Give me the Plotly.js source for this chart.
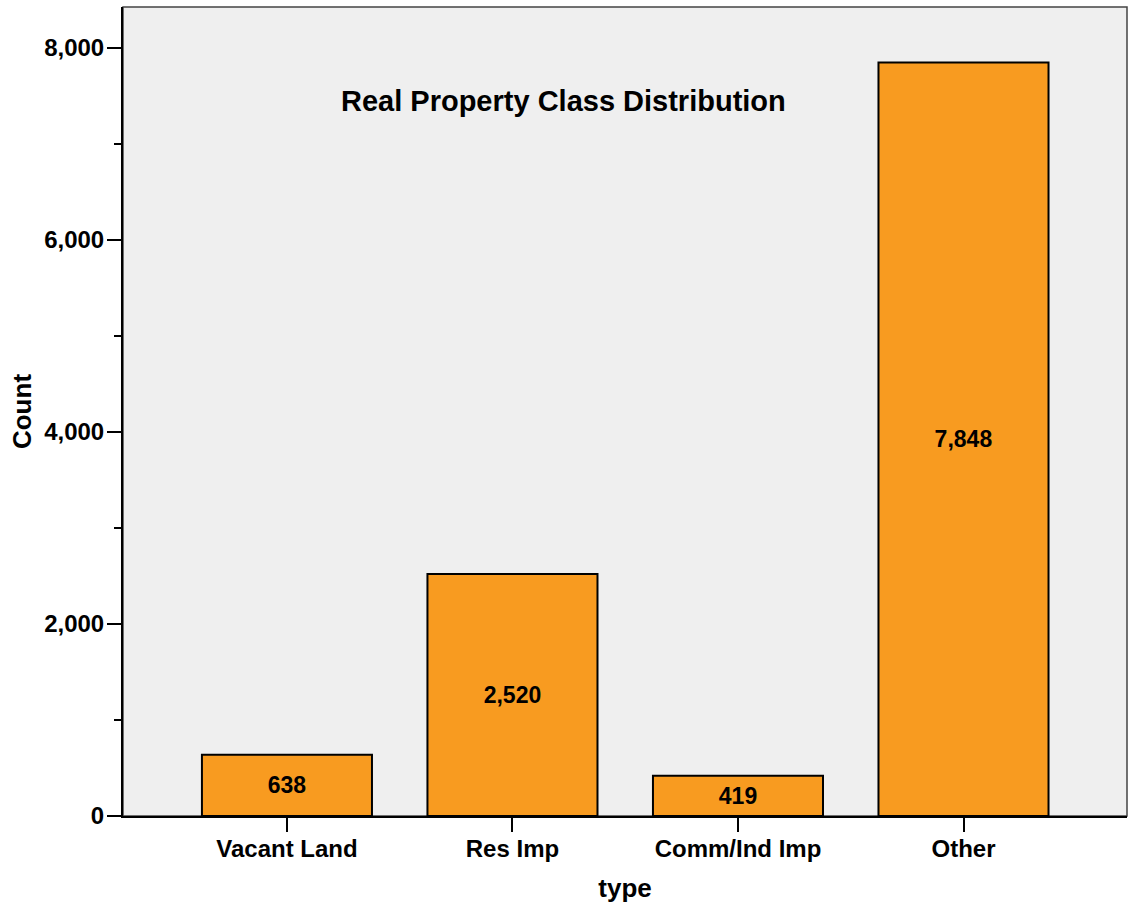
<!DOCTYPE html>
<html>
<head>
<meta charset="utf-8">
<script src="https://cdn.plot.ly/plotly-3.0.1.min.js"></script>
<style>
  html, body { margin: 0; padding: 0; background: #ffffff; }
  #chart { width: 1130px; height: 904px; }
</style>
</head>
<body>
<div id="chart"></div>
<script>
// Real property class counts
const categories = ["Vacant Land", "Res Imp", "Comm/Ind Imp", "Other"];
const counts = [638, 2520, 419, 7848];
const yTickValues = [0, 2000, 4000, 6000, 8000];
const yTickLabels = ["0", "2,000", "4,000", "6,000", "8,000"];

const FONT = "Liberation Sans, Arial, Helvetica, sans-serif";

const trace = {
  type: "bar",
  x: categories,
  y: counts,
  width: 0.754,
  marker: { color: "#F89B20", line: { color: "#000000", width: 2 } },
  text: counts.map(v => v.toLocaleString("en-US")),
  textposition: "inside",
  insidetextanchor: "middle",
  textangle: 0,
  textfont: { family: FONT, size: 23, color: "#000000", weight: 700 },
  hoverinfo: "x+y"
};

const layout = {
  width: 1130,
  height: 904,
  margin: { l: 123, r: 3, t: 7, b: 88 },
  paper_bgcolor: "#ffffff",
  plot_bgcolor: "#EFEFEF",
  showlegend: false,
  font: { family: FONT, color: "#000000" },
  xaxis: {
    type: "category",
    range: [-0.727, 3.725],
    showline: true,
    linecolor: "#000000",
    linewidth: 2,
    ticks: "outside",
    ticklen: 14,
    tickwidth: 2,
    tickcolor: "#000000",
    ticklabelstandoff: -4,
    showgrid: false,
    zeroline: false,
    tickfont: { family: FONT, size: 24, color: "#000000", weight: 700 },
    title: { text: "type", font: { family: FONT, size: 26, color: "#000000", weight: 700 }, standoff: 18 },
    automargin: false
  },
  yaxis: {
    range: [0, 8427],
    tickvals: yTickValues,
    ticktext: yTickLabels,
    showline: true,
    linecolor: "#000000",
    linewidth: 2,
    ticks: "outside",
    ticklen: 14,
    tickwidth: 2,
    tickcolor: "#000000",
    ticklabelstandoff: -2,
    minor: { dtick: 1000, ticks: "outside", ticklen: 7, tickwidth: 2, tickcolor: "#000000", showgrid: false },
    showgrid: false,
    zeroline: false,
    tickfont: { family: FONT, size: 24, color: "#000000", weight: 700 },
    title: { text: "Count", font: { family: FONT, size: 26, color: "#000000", weight: 700 }, standoff: 5 },
    automargin: false
  },
  shapes: [
    {
      type: "rect", xref: "paper", yref: "paper",
      x0: 0, x1: 1, y0: 0, y1: 1,
      line: { color: "#444444", width: 1.5 },
      fillcolor: "rgba(0,0,0,0)",
      layer: "below"
    }
  ],
  annotations: [
    {
      text: "Real Property Class Distribution",
      xref: "paper", yref: "paper",
      x: 0.439, y: 0.884,
      xanchor: "center", yanchor: "middle",
      showarrow: false,
      font: { family: FONT, size: 29, color: "#000000", weight: 700 }
    }
  ]
};

Plotly.newPlot("chart", [trace], layout, { displayModeBar: false, staticPlot: true });
</script>
</body>
</html>
